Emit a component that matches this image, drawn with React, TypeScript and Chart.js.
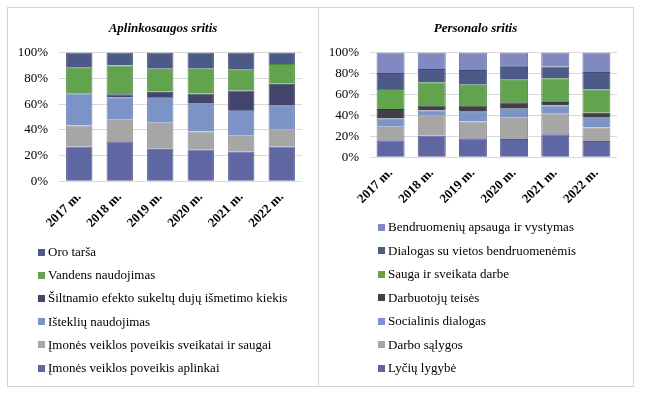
import React, { useEffect, useRef } from "react";
import { Chart, registerables } from "chart.js";

Chart.register(...registerables);

const years = ["2017 m.", "2018 m.", "2019 m.", "2020 m.", "2021 m.", "2022 m."];

// Aplinkosaugos sritis (bottom to top)
const envLabels = [
  "Įmonės veiklos poveikis aplinkai",
  "Įmonės veiklos poveikis sveikatai ir saugai",
  "Išteklių naudojimas",
  "Šiltnamio efekto sukeltų dujų išmetimo kiekis",
  "Vandens naudojimas",
  "Oro tarša",
];
const envAplinkai = [27.1, 31.1, 25.3, 24.7, 23.2, 27.1];
const envSveikatai = [16.3, 16.8, 20.2, 14.0, 12.3, 12.9];
const envIstekliu = [25.0, 17.4, 20.0, 21.6, 20.0, 18.7];
const envSiltnamio = [0, 2.3, 4.0, 7.9, 15.0, 17.1];
const envVandens = [19.8, 22.4, 17.9, 19.2, 16.1, 15.3];
const envOro = [11.8, 10.0, 12.6, 12.6, 13.4, 8.9];
const envColors = ["#5f67a3", "#a6a6a6", "#7b93c6", "#43456c", "#62a44e", "#4b5a86"];

// Personalo sritis (bottom to top)
const perLabels = [
  "Lyčių lygybė",
  "Darbo sąlygos",
  "Socialinis dialogas",
  "Darbuotojų teisės",
  "Sauga ir sveikata darbe",
  "Dialogas su vietos bendruomenėmis",
  "Bendruomenių apsauga ir vystymas",
];
const perLyciu = [16.2, 20.8, 18.2, 17.5, 22.1, 15.6];
const perDarbo = [13.0, 18.8, 15.9, 20.2, 20.1, 13.0];
const perSocial = [8.1, 5.2, 9.4, 8.7, 7.2, 9.1];
const perTeises = [8.8, 4.9, 6.2, 6.2, 3.5, 4.8];
const perSauga = [19.2, 22.1, 19.5, 21.4, 22.7, 22.4];
const perDialogas = [15.2, 12.6, 14.2, 14.0, 11.1, 16.6];
const perBendr = [19.5, 15.6, 16.6, 12.0, 13.3, 18.5];
const perColors = ["#5f67a3", "#a6a6a6", "#7b93c6", "#3f4147", "#62a44e", "#4b5a86", "#8188c2"];

const yTicks = [0, 20, 40, 60, 80, 100];

const FONT = "'Liberation Serif', 'Times New Roman', serif";

function darken(hex: string, f: number) {
  const n = parseInt(hex.slice(1), 16);
  const r = Math.round(((n >> 16) & 255) * f);
  const g = Math.round(((n >> 8) & 255) * f);
  const b = Math.round((n & 255) * f);
  return `rgb(${r},${g},${b})`;
}

type PanelProps = {
  title: string;
  labels: string[];
  series: number[][];
  colors: string[];
  left: number;
  top: number;
  width: number;
  height: number;
  padding: { left: number; right: number; top: number; bottom: number };
  titlePad: { top: number; bottom: number };
  barPct: number;
  yWidth: number;
};

function ChartPanel(p: PanelProps) {
  const ref = useRef<HTMLCanvasElement | null>(null);
  useEffect(() => {
    if (!ref.current) return;
    const chart = new Chart(ref.current, {
      type: "bar",
      data: {
        labels: years,
        datasets: p.series.map((s, i) => ({
          label: p.labels[i],
          data: s,
          backgroundColor: p.colors[i],
          borderColor: darken(p.colors[i], 0.85),
          borderWidth: 1,
          categoryPercentage: 1,
          barPercentage: p.barPct,
        })),
      },
      options: {
        responsive: false,
        animation: false,
        layout: { padding: p.padding },
        plugins: {
          legend: { display: false },
          tooltip: { enabled: false },
          title: {
            display: true,
            text: p.title,
            color: "#000",
            font: { family: FONT, size: 13, weight: "bold", style: "italic" },
            padding: p.titlePad,
          },
        },
        scales: {
          x: {
            stacked: true,
            grid: { display: false, drawTicks: false },
            border: { display: false },
            afterFit: (s: any) => {
              s.paddingLeft = 0;
              s.paddingRight = 0;
            },
            ticks: {
              color: "#000",
              font: { family: FONT, size: 13, weight: "bold" },
              maxRotation: 45,
              minRotation: 45,
              padding: 8,
            },
          },
          y: {
            stacked: true,
            min: 0,
            max: 100,
            grid: { color: "#d9d9d9", drawTicks: false, lineWidth: 1 },
            border: { display: false },
            afterBuildTicks: (axis: any) => {
              axis.ticks = yTicks.map((v) => ({ value: v }));
            },
            afterFit: (s: any) => {
              s.width = p.yWidth;
              s._computeLabelArea = () => undefined;
            },
            ticks: {
              color: "#000",
              font: { family: FONT, size: 13 },
              padding: 11,
              callback: (v: any) => v + "%",
            },
          },
        },
      },
    });
    return () => chart.destroy();
  }, []);
  return (
    <canvas
      ref={ref}
      width={p.width}
      height={p.height}
      style={{ position: "absolute", left: p.left, top: p.top, width: p.width, height: p.height }}
    />
  );
}

function Legend(props: { labels: string[]; colors: string[]; left: number; top: number; step: number }) {
  const items = props.labels.map((l, i) => ({ l, c: props.colors[i] })).reverse();
  return (
    <div style={{ position: "absolute", left: props.left, top: props.top }}>
      {items.map((it, i) => (
        <div
          key={i}
          style={{
            position: "absolute",
            left: 0,
            top: i * props.step,
            height: 16,
            display: "flex",
            alignItems: "center",
            whiteSpace: "nowrap",
            fontFamily: FONT,
            fontSize: 13,
            color: "#000",
          }}
        >
          <span style={{ display: "inline-block", width: 7, height: 7, background: it.c, marginRight: 3 }} />
          <span>{it.l}</span>
        </div>
      ))}
    </div>
  );
}

export default function App() {
  const envSeries = [envAplinkai, envSveikatai, envIstekliu, envSiltnamio, envVandens, envOro];
  const perSeries = [perLyciu, perDarbo, perSocial, perTeises, perSauga, perDialogas, perBendr];
  return (
    <div style={{ position: "absolute", left: 0, top: 0, width: 650, height: 394, background: "#fff", overflow: "hidden" }}>
      <div style={{ position: "absolute", left: 7, top: 7, width: 310, height: 378, border: "1px solid #d4d4d4" }} />
      <div style={{ position: "absolute", left: 318, top: 7, width: 314, height: 378, border: "1px solid #d4d4d4" }} />
      <ChartPanel
        title="Aplinkosaugos sritis"
        labels={envLabels}
        series={envSeries}
        colors={envColors}
        left={8}
        top={8}
        width={310}
        height={243}
        padding={{ left: 16, right: 16, top: 0, bottom: 12 }}
        titlePad={{ top: 13, bottom: 16 }}
        barPct={0.65}
        yWidth={35}
      />
      <ChartPanel
        title="Personalo sritis"
        labels={perLabels}
        series={perSeries}
        colors={perColors}
        left={319}
        top={8}
        width={314}
        height={219}
        padding={{ left: 15, right: 16, top: 0, bottom: 12 }}
        titlePad={{ top: 13, bottom: 16 }}
        barPct={0.68}
        yWidth={36}
      />
      <Legend labels={envLabels} colors={envColors} left={38} top={244} step={23.2} />
      <Legend labels={perLabels} colors={perColors} left={378} top={219} step={23.5} />
    </div>
  );
}
